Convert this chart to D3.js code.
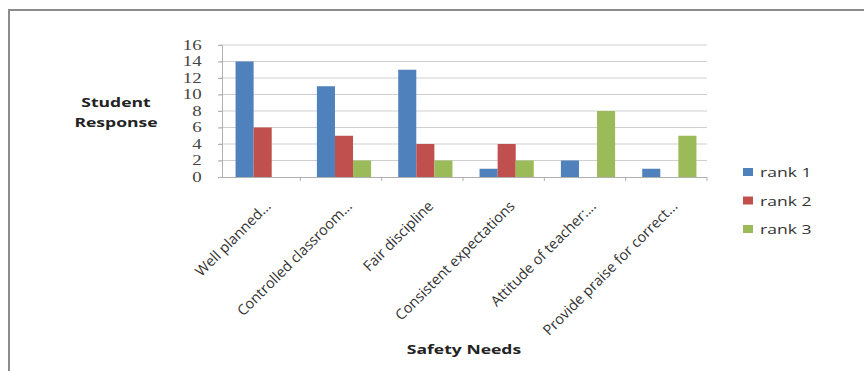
<!DOCTYPE html>
<html>
<head>
<meta charset="utf-8">
<script src="https://cdn.jsdelivr.net/npm/d3@7/dist/d3.min.js"></script>
<style>
  html, body { margin: 0; padding: 0; background: #fff; }
  svg { display: block; }
</style>
</head>
<body>
<svg id="chart" width="864" height="371"></svg>
<script>
// Survey data: how often each safety need was ranked 1st, 2nd or 3rd
const categories = [
  "Well planned...",
  "Controlled classroom...",
  "Fair discipline",
  "Consistent expectations",
  "Attitude of teacher:...",
  "Provide praise for correct..."
];
const rank1 = [14, 11, 13, 1, 2, 1];
const rank2 = [6, 5, 4, 4, 0, 0];
const rank3 = [0, 2, 2, 2, 8, 5];
const seriesNames = ["rank 1", "rank 2", "rank 3"];
const seriesColors = ["#4F81BD", "#C0504D", "#9BBB59"];
const yTicks = [0, 2, 4, 6, 8, 10, 12, 14, 16];

const series = [rank1, rank2, rank3];
const svg = d3.select("#chart");
const SX = 1.35;              // horizontal stretch applied to flat text
const sans = "'Open Sans', sans-serif";

// Outer chart frame (only top and left edges fall inside the view)
svg.append("rect")
  .attr("x", 9).attr("y", 10)
  .attr("width", 900).attr("height", 400)
  .attr("fill", "#fff")
  .attr("stroke", "#8c8c8c").attr("stroke-width", 2);

const plot = { left: 219, right: 707, top: 45, bottom: 177 };

const x = d3.scaleBand()
  .domain(categories)
  .range([plot.left, plot.right]);

const xInner = d3.scaleBand()
  .domain(d3.range(series.length))
  .range([0, x.bandwidth()])
  .paddingOuter(0.75)
  .paddingInner(0);

const y = d3.scaleLinear()
  .domain([0, 16])
  .range([plot.bottom, plot.top]);

// Horizontal gridlines
svg.append("g")
  .selectAll("line")
  .data(yTicks.filter(d => d > 0))
  .join("line")
  .attr("x1", plot.left).attr("x2", plot.right)
  .attr("y1", d => y(d)).attr("y2", d => y(d))
  .attr("stroke", "#cfcfcf").attr("stroke-width", 1);

// Bars (cluster sits slightly right of the band centre)
const barsG = svg.append("g").attr("transform", "translate(3,0)");
series.forEach((vals, si) => {
  barsG.append("g")
    .selectAll("rect")
    .data(vals.map((v, i) => ({ v, c: categories[i] })))
    .join("rect")
    .attr("x", d => x(d.c) + xInner(si))
    .attr("y", d => y(d.v))
    .attr("width", xInner.bandwidth())
    .attr("height", d => y(0) - y(d.v))
    .attr("fill", seriesColors[si]);
});

// Y axis
const yAxis = d3.axisLeft(y).tickValues(yTicks).tickSize(4).tickPadding(11);
const gy = svg.append("g")
  .attr("transform", `translate(${plot.left + 3},0)`)
  .call(yAxis);
gy.select(".domain").attr("stroke", "#b0b0b0");
gy.selectAll(".tick line").attr("stroke", "#b0b0b0");
gy.selectAll(".tick text")
  .attr("fill", "#444")
  .attr("transform", `scale(${SX},1)`)
  .style("font-family", "'Liberation Serif', serif")
  .style("font-size", "14px");

// X axis baseline with category boundary ticks
const gx = svg.append("g");
gx.append("line")
  .attr("x1", plot.left).attr("x2", plot.right)
  .attr("y1", plot.bottom + 0.5).attr("y2", plot.bottom + 0.5)
  .attr("stroke", "#b0b0b0");
gx.selectAll("line.tk")
  .data(categories.map(c => x(c) + x.bandwidth()))
  .join("line")
  .attr("class", "tk")
  .attr("x1", d => d).attr("x2", d => d)
  .attr("y1", plot.bottom).attr("y2", plot.bottom + 4)
  .attr("stroke", "#b0b0b0");

// Rotated category labels
svg.append("g")
  .selectAll("text")
  .data(categories)
  .join("text")
  .attr("transform", c => `translate(${x(c) + x.bandwidth() / 2 + 12},${plot.bottom + 30}) rotate(-45)`)
  .attr("text-anchor", "end")
  .attr("fill", "#333")
  .style("font-family", sans)
  .style("font-size", "14.5px")
  .text(c => c);

// Axis titles
function flatText(px, py, str, opts) {
  return svg.append("text")
    .attr("transform", `translate(${px},${py}) scale(${SX},1)`)
    .attr("text-anchor", opts.anchor || "middle")
    .attr("fill", opts.fill || "#222")
    .style("font-family", sans)
    .style("font-weight", opts.weight || "normal")
    .style("font-size", opts.size || "13px")
    .text(str);
}
flatText(116, 107, "Student", { weight: "bold" });
flatText(116, 127, "Response", { weight: "bold" });
flatText(464, 354, "Safety Needs", { weight: "bold" });

// Legend
seriesNames.forEach((name, i) => {
  const ly = 172 + i * 28.5;
  svg.append("rect")
    .attr("x", 743).attr("y", ly - 4)
    .attr("width", 10).attr("height", 8)
    .attr("fill", seriesColors[i]);
  flatText(760, ly + 5, name, { anchor: "start", fill: "#333" });
});
</script>
</body>
</html>
